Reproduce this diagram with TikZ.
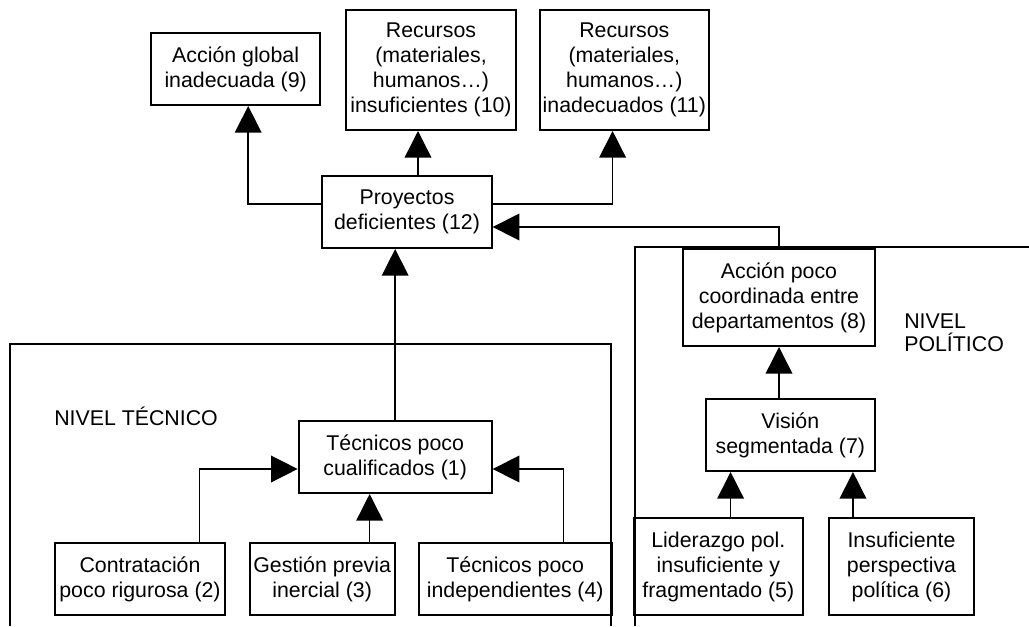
\documentclass[tikz,border=0pt]{standalone}
\usepackage{fontspec}
\setmainfont{Liberation Sans}
\usetikzlibrary{positioning,arrows.meta}

\tikzstyle{box}=[draw, rectangle, line width=1.5pt, align=center, inner sep=1pt, minimum width=127pt, minimum height=54pt, font=\fontsize{16}{18.75}\selectfont]
\tikzstyle{box3}=[box, minimum height=72.75pt]
\tikzstyle{box4}=[box, minimum height=90pt]
\tikzstyle{wide}=[minimum width=144.75pt]
\tikzstyle{narrow}=[minimum width=108.75pt]
\tikzstyle{arr}=[line width=1.1pt, -{Triangle[length=20pt,width=20pt]}]
\tikzstyle{frame_line}=[line width=1.8pt]
\tikzstyle{nivel}=[align=left, inner sep=0pt, font=\fontsize{16}{17.5}\selectfont]

\begin{document}
\begin{tikzpicture}[x=0.75pt, y=-0.75pt]
      \useasboundingbox (0,0) rectangle (1029,626);

      %%%%%%%%%%%%%%%%%%%%%%%%%%%%%%%%%%%%%%%%%%%%%%%%%
      % CONSECUENCIAS
      %%%%%%%%%%%%%%%%%%%%%%%%%%%%%%%%%%%%%%%%%%%%%%%%%
      \node[box] (B12) at (407,212) {Proyectos\\deficientes (12)};
      \node[box, above left=51.75pt and 0pt of B12.north west] (B9) {Acción global\\inadecuada (9)};
      \node[box4, above right=33pt and 18pt of B12.north west] (B10) {Recursos\\(materiales,\\humanos…)\\insuficientes (10)};
      \node[box4, right=16.5pt of B10] (B11) {Recursos\\(materiales,\\humanos…)\\inadecuados (11)};

      \coordinate (s10) at ([xshift=8.25pt]B12.north);
      \draw[arr] ([yshift=6pt]B12.west) -| ([xshift=9.4pt]B9.south);
      \draw[arr] (s10) -- (s10 |- B10.south);
      \draw[arr] ([yshift=6pt]B12.east) -| ([xshift=-8.8pt]B11.south);

      %%%%%%%%%%%%%%%%%%%%%%%%%%%%%%%%%%%%%%%%%%%%%%%%%
      % NIVEL TECNICO
      %%%%%%%%%%%%%%%%%%%%%%%%%%%%%%%%%%%%%%%%%%%%%%%%%
      \draw[frame_line] (10,626) -- (10,344) -- (611,344) -- (611,626);
      \node[nivel, anchor=west] (NT) at (54,416) {NIVEL TÉCNICO};

      \node[box, wide, below=128.25pt of B12.south east, anchor=north east] (B1) {Técnicos poco\\cualificados (1)};
      \node[box, wide, below right=36pt and 90pt of B1.south west] (B4) {Técnicos poco\\independientes (4)};
      \node[box, narrow, left=16.5pt of B4] (B3) {Gestión previa\\inercial (3)};
      \node[box, left=17.25pt of B3] (B2) {Contratación\\poco rigurosa (2)};

      \coordinate (s3) at ([xshift=35.6pt]B3.north);
      \draw[arr] (B1.north) -- (B1.north |- B12.south);
      \draw[arr] ([xshift=44.8pt]B2.north) |- ([yshift=-9pt]B1.west);
      \draw[arr] (s3) -- (s3 |- B1.south);
      \draw[arr] ([xshift=36.4pt]B4.north) |- ([yshift=-9pt]B1.east);

      %%%%%%%%%%%%%%%%%%%%%%%%%%%%%%%%%%%%%%%%%%%%%%%%%
      % NIVEL POLITICO
      %%%%%%%%%%%%%%%%%%%%%%%%%%%%%%%%%%%%%%%%%%%%%%%%%
      \draw[frame_line] (635,626) -- (635,247) -- (1029,247);
      \node[nivel, anchor=west] (NP) at (904,333) {NIVEL\\POLÍTICO};

      \node[box3, minimum width=144pt] (B8) at (779,297.5) {Acción poco\\coordinada entre\\departamentos (8)};
      \node[box, below=38.25pt of B8.south east, anchor=north east] (B7) {Visión\\segmentada (7)};
      \node[box3, below left=33.75pt and 54pt of B7.south west, anchor=north west] (B5) {Liderazgo pol.\\insuficiente y\\fragmentado (5)};
      \node[box3, narrow, right=18pt of B5] (B6) {Insuficiente\\perspectiva\\política (6)};

      \coordinate (s5) at ([xshift=9.2pt]B5.north);
      \coordinate (s6) at ([xshift=-36.4pt]B6.north);
      \draw[arr] (B8.north) |- ([yshift=-11.25pt]B12.east);
      \draw[arr] (B8.south |- B7.north) -- (B8.south);
      \draw[arr] (s5) -- (s5 |- B7.south);
      \draw[arr] (s6) -- (s6 |- B7.south);

\end{tikzpicture}
\end{document}
